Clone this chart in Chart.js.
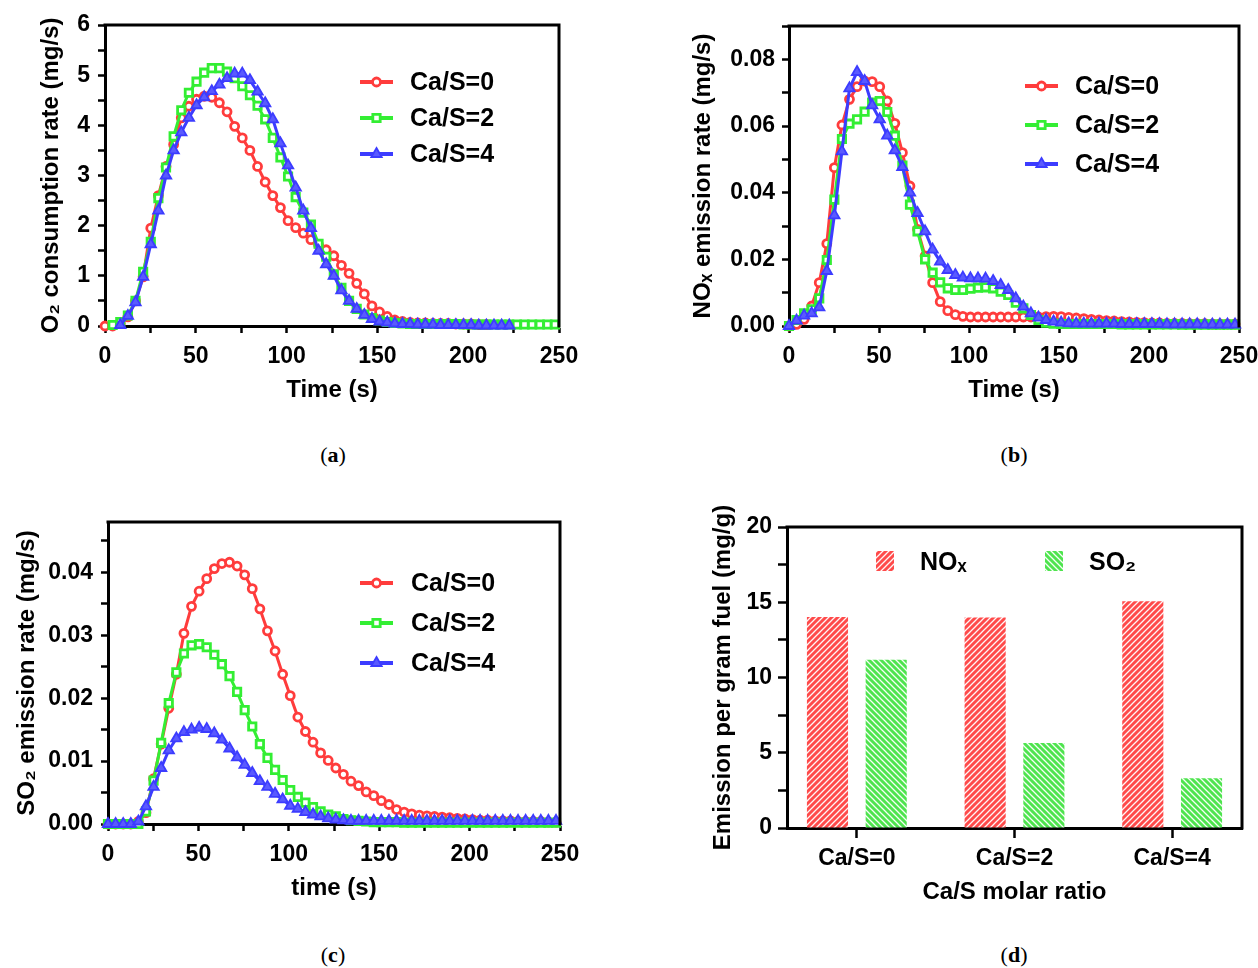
<!DOCTYPE html>
<html><head><meta charset="utf-8">
<script src="https://cdn.jsdelivr.net/npm/chart.js@4.4.1/dist/chart.umd.min.js"></script>
<style>
html,body{margin:0;padding:0;background:#fff;overflow:hidden;width:1258px;height:968px;position:relative;}
canvas{position:absolute;}
.cap{position:absolute;font-family:'Liberation Serif','DejaVu Serif',serif;font-size:22px;transform:translate(-50%,-50%);white-space:nowrap;color:#000}
.cap b{font-weight:bold}
</style></head><body>
<canvas id="ca" width="640" height="420" style="left:0px;top:0px"></canvas>
<canvas id="cb" width="640" height="420" style="left:640px;top:0px"></canvas>
<canvas id="cc" width="640" height="420" style="left:0px;top:500px"></canvas>
<canvas id="cd" width="640" height="420" style="left:640px;top:500px"></canvas>
<div class="cap" style="left:333px;top:455px">(<b>a</b>)</div>
<div class="cap" style="left:1014px;top:455px">(<b>b</b>)</div>
<div class="cap" style="left:333px;top:955px">(<b>c</b>)</div>
<div class="cap" style="left:1014px;top:955px">(<b>d</b>)</div>
<script>
// ---------- DATA ----------
const time = [0,4.2,8.4,12.6,16.8,21,25.2,29.4,33.6,37.8,42,46.2,50.4,54.6,58.8,63,67.2,71.4,75.6,79.8,84,88.2,92.4,96.6,100.8,105,109.2,113.4,117.6,121.8,126,130.2,134.4,138.6,142.8,147,151.2,155.4,159.6,163.8,168,172.2,176.4,180.6,184.8,189,193.2,197.4,201.6,205.8,210,214.2,218.4,222.6,226.8,231,235.2,239.4,243.6,247.8];
const seriesNames = ['Ca/S=0','Ca/S=2','Ca/S=4'];

// (a) O2 consumption rate (mg/s)
const o2Cas0 = [0,0,0.05,0.18,0.5,0.98,1.95,2.6,3.18,3.62,4.15,4.38,4.52,4.58,4.56,4.45,4.27,3.98,3.75,3.5,3.18,2.87,2.6,2.36,2.1,1.96,1.85,1.72,1.62,1.52,1.4,1.21,1.05,0.85,0.64,0.4,0.28,0.19,0.12,0.09,0.07,0.06,0.06,0.05,0.05,0.05,0.04,0.04,0.04,0.03,0.03,null,null,null,null,null,null,null,null,null];
const o2Cas2 = [null,0.02,0.08,0.21,0.5,1.08,1.68,2.55,3.16,3.78,4.3,4.65,4.87,5.05,5.14,5.14,5.07,4.94,4.78,4.6,4.39,4.12,3.75,3.36,2.98,2.57,2.26,2.02,1.64,1.38,1.03,0.76,0.5,0.34,0.23,0.16,0.11,0.08,0.06,0.05,0.04,0.04,0.04,0.04,0.04,0.04,0.04,0.03,0.03,0.03,0.03,0.03,0.03,0.03,0.03,0.03,0.03,0.03,0.03,0.03];
const o2Cas4 = [null,null,0.02,0.2,0.47,0.98,1.63,2.3,3.0,3.5,3.86,4.15,4.4,4.56,4.68,4.81,4.94,5.03,5.03,4.9,4.67,4.44,4.12,3.64,3.2,2.76,2.3,1.95,1.5,1.23,1.0,0.71,0.5,0.34,0.22,0.14,0.09,0.07,0.05,0.04,0.04,0.03,0.03,0.03,0.02,0.02,0.02,0.02,0.02,0.01,0.01,0.01,0.01,0.01,null,null,null,null,null,null];

// (b) NOx emission rate (mg/s)
const noxCas0 = [0,0.0005,0.002,0.006,0.013,0.0247,0.0475,0.0603,0.068,0.0718,0.0735,0.0733,0.0718,0.0675,0.0608,0.052,0.042,0.029,0.021,0.013,0.0073,0.0046,0.0034,0.0029,0.0027,0.0027,0.0027,0.0027,0.0027,0.0027,0.0027,0.0027,0.0027,0.0027,0.0028,0.0029,0.0028,0.0026,0.0024,0.0022,0.002,0.0018,0.0016,0.0015,0.0013,0.0012,0.0011,0.001,0.0009,0.0009,0.0008,0.0008,0.0008,0.0007,0.0007,0.0007,0.0006,0.0006,0.0006,0.0006];
const noxCas2 = [0,0.0018,0.0038,0.005,0.0083,0.0198,0.0379,0.0561,0.0607,0.062,0.0643,0.067,0.0675,0.0642,0.0571,0.0481,0.0364,0.0284,0.02,0.016,0.0131,0.0113,0.0108,0.0108,0.0112,0.0115,0.0116,0.0113,0.0103,0.0093,0.007,0.0053,0.0033,0.0018,0.001,0.0007,0.0006,0.0006,0.0006,0.0006,0.0006,0.0006,0.0006,0.0006,0.0005,0.0005,0.0005,0.0005,0.0005,0.0005,0.0005,0.0005,0.0004,0.0004,0.0004,0.0004,0.0004,0.0004,0.0004,0.0004];
const noxCas4 = [0,0.0016,0.0031,0.0038,0.0056,0.0165,0.0332,0.0524,0.0713,0.0762,0.0735,0.0662,0.062,0.0571,0.0527,0.0477,0.04,0.0339,0.0284,0.0229,0.0193,0.0168,0.0153,0.0145,0.0143,0.0143,0.0142,0.0135,0.0123,0.0108,0.0083,0.0058,0.0038,0.0025,0.0018,0.0013,0.001,0.0008,0.0007,0.0007,0.0007,0.0007,0.0007,0.0007,0.0006,0.0006,0.0006,0.0006,0.0006,0.0006,0.0005,0.0005,0.0005,0.0005,0.0005,0.0004,0.0004,0.0004,0.0004,0.0004];

// (c) SO2 emission rate (mg/s)
const so2Cas0 = [0,0,0,0,0.0004,0.0018,0.0072,0.0127,0.0184,0.0238,0.0303,0.0346,0.037,0.039,0.0406,0.0414,0.0416,0.041,0.0396,0.0374,0.0342,0.0307,0.0275,0.0238,0.0204,0.017,0.0147,0.013,0.0113,0.0101,0.0089,0.0079,0.0068,0.0061,0.0051,0.0045,0.0037,0.0031,0.0023,0.0019,0.0016,0.0014,0.0013,0.0012,0.0011,0.001,0.0009,0.0008,0.0007,0.0006,0.0006,0.0005,0.0005,0.0005,0.0004,0.0004,0.0004,0.0004,0.0003,0.0003];
const so2Cas2 = [0,0,0,0,0,0.002,0.0069,0.0129,0.0192,0.0241,0.0271,0.0284,0.0286,0.0281,0.0269,0.0254,0.0235,0.021,0.0181,0.0155,0.0127,0.0105,0.0086,0.007,0.0054,0.0043,0.0034,0.0027,0.002,0.0015,0.0012,0.0008,0.0006,0.0005,0.0004,0.0003,0.0003,0.0003,0.0003,0.0002,0.0002,0.0002,0.0002,0.0002,0.0002,0.0002,0.0002,0.0002,0.0002,0.0002,0.0002,0.0002,0.0002,0.0002,0.0002,0.0002,0.0002,0.0002,0.0002,0.0002];
const so2Cas4 = [0,0,0,0,0.0004,0.0028,0.0059,0.0089,0.0117,0.0136,0.0146,0.015,0.0153,0.0151,0.0144,0.0134,0.012,0.0106,0.0094,0.0081,0.0068,0.0059,0.0048,0.0039,0.0029,0.0024,0.0019,0.0015,0.0012,0.0009,0.0007,0.0006,0.0005,0.0005,0.0005,0.0005,0.0005,0.0005,0.0005,0.0005,0.0005,0.0005,0.0005,0.0005,0.0005,0.0005,0.0005,0.0005,0.0005,0.0005,0.0005,0.0005,0.0005,0.0005,0.0005,0.0005,0.0005,0.0005,0.0005,0.0005];

// (d) Emission per gram fuel (mg/g)
const barCategories = ['Ca/S=0','Ca/S=2','Ca/S=4'];
const barNOx = [14.02,13.98,15.07];
const barSO2 = [11.18,5.64,3.3];

// tick values and labels
const timeTicks = [0,25,50,75,100,125,150,175,200,225,250];
const timeLabels = [0,50,100,150,200,250];
const aYTicks = [0,0.5,1,1.5,2,2.5,3,3.5,4,4.5,5,5.5,6];
const aYLabels = [0,1,2,3,4,5,6];
const bYTicks = [0,0.01,0.02,0.03,0.04,0.05,0.06,0.07,0.08,0.09];
const bYLabels = [0,0.02,0.04,0.06,0.08];
const cYTicks = [0,0.005,0.01,0.015,0.02,0.025,0.03,0.035,0.04,0.045];
const cYLabels = [0,0.01,0.02,0.03,0.04];
const dYTicks = [0,2.5,5,7.5,10,12.5,15,17.5,20];
const dYLabels = [0,5,10,15,20];
const dXTicks = [0,1,2];

// ---------- STYLE ----------
const FONT = "'Liberation Sans', Arial, Helvetica, sans-serif";
Chart.defaults.font.family = FONT;
Chart.defaults.font.weight = 'bold';
Chart.defaults.font.size = 23;
Chart.defaults.color = '#000';
const C_RED = '#ff3c3c', C_GREEN = '#33ee33', C_BLUE = '#3c3cff';
const TITLE_FONT = {size:24, weight:'bold'};

function series(vals){
  return time.map((t,i)=> vals[i]==null ? null : {x:t, y:vals[i]}).filter(p=>p);
}
function hasLabel(v, list){ return list.some(l=>Math.abs(l-v)<1e-9); }

function lineDatasets(r,g,b){
  const common = {tension:0, fill:false, clip:false, borderWidth:3, pointHoverRadius:0};
  return [
    Object.assign({label:seriesNames[0], data:series(r), borderColor:C_RED, backgroundColor:'#ffffff', pointBackgroundColor:'#ffffff', pointStyle:'circle', pointRadius:4, pointBorderWidth:2.8, order:3}, common),
    Object.assign({label:seriesNames[1], data:series(g), borderColor:C_GREEN, backgroundColor:'#ffffff', pointBackgroundColor:'#ffffff', pointStyle:'rect', pointRadius:5.2, pointBorderWidth:2.8, order:2}, common),
    Object.assign({label:seriesNames[2], data:series(b), borderColor:C_BLUE, backgroundColor:'#5a5aff', pointBackgroundColor:'#5a5aff', pointStyle:'triangle', pointRadius:6, pointBorderWidth:1.8, order:1}, common)
  ];
}

function drawMarker(ctx, ds, x, y){
  const r = ds.pointRadius;
  ctx.lineWidth = ds.pointBorderWidth; ctx.strokeStyle = ds.borderColor; ctx.fillStyle = ds.pointBackgroundColor;
  ctx.beginPath();
  if (ds.pointStyle === 'circle') ctx.arc(x, y, r, 0, Math.PI*2);
  else if (ds.pointStyle === 'rect') { const s = r*Math.SQRT1_2; ctx.rect(x-s, y-s, 2*s, 2*s); }
  else { ctx.moveTo(x, y-r); ctx.lineTo(x+0.866*r, y+0.5*r); ctx.lineTo(x-0.866*r, y+0.5*r); ctx.closePath(); }
  ctx.fill(); ctx.stroke();
}

const framePlugin = {
  id:'frame',
  afterDraw(chart){
    const {ctx, chartArea:a} = chart;
    ctx.save(); ctx.strokeStyle = '#000'; ctx.lineWidth = 3;
    ctx.beginPath(); ctx.moveTo(a.left-1.5, a.top); ctx.lineTo(a.right, a.top); ctx.lineTo(a.right, a.bottom+1.5); ctx.stroke();
    ctx.restore();
  }
};
const lineLegend = {
  id:'lineLegend',
  afterDraw(chart, args, o){
    const ctx = chart.ctx;
    chart.data.datasets.forEach((ds,i)=>{
      const y = o.y + i*o.dy;
      ctx.save();
      ctx.strokeStyle = ds.borderColor; ctx.lineWidth = 3.8;
      ctx.beginPath(); ctx.moveTo(o.x, y); ctx.lineTo(o.x+o.len, y); ctx.stroke();
      drawMarker(ctx, ds, o.x+o.len/2, y);
      ctx.fillStyle = '#000'; ctx.font = 'bold ' + o.size + 'px ' + FONT;
      ctx.textBaseline = 'middle'; ctx.textAlign = 'left';
      ctx.fillText(ds.label, o.x+o.len+o.gap, y + 1);
      ctx.restore();
    });
  }
};
const barLegend = {
  id:'barLegend',
  afterDraw(chart, args, o){
    const ctx = chart.ctx;
    chart.data.datasets.forEach((ds,i)=>{
      const x = o.xs[i];
      ctx.save();
      ctx.fillStyle = ds.backgroundColor;
      ctx.fillRect(x, o.y - o.h/2, o.w, o.h);
      ctx.fillStyle = '#000'; ctx.font = 'bold ' + o.size + 'px ' + FONT;
      ctx.textBaseline = 'middle'; ctx.textAlign = 'left';
      ctx.fillText(ds.label, x + o.w + o.gap, o.y + 2);
      ctx.restore();
    });
  }
};

function axisCommon(tickLen){
  return {
    grid:{display:true, drawOnChartArea:false, drawTicks:true, tickLength:tickLen, tickWidth:2.5, color:'#000', tickColor:'#000', offset:false},
    border:{display:true, color:'#000', width:3}
  };
}
function xTime(titleText, height, tickPad, titlePadB){
  return Object.assign(axisCommon(7), {
    type:'linear', min:0, max:250, offset:false,
    afterBuildTicks: s => { s.ticks = timeTicks.map(v=>({value:v})); },
    afterFit: s => { s.height = height; },
    ticks:{autoSkip:false, maxRotation:0, minRotation:0, padding:tickPad,
      callback: v => hasLabel(v, timeLabels) ? String(v) : ''},
    title:{display:true, text:titleText, font:TITLE_FONT, padding:{top:0, bottom:titlePadB}}
  });
}
function yLin(max, ticks, labels, digits, titleText, width, tickPad, titlePadT, tickLen){
  return Object.assign(axisCommon(tickLen||7), {
    type:'linear', min:0, max:max,
    afterBuildTicks: s => { s.ticks = ticks.map(v=>({value:v})); },
    afterFit: s => { s.width = width; },
    ticks:{autoSkip:false, padding:tickPad,
      callback: v => hasLabel(v, labels) ? v.toFixed(digits) : ''},
    title:{display:true, text:titleText, font:TITLE_FONT, padding:{top:titlePadT, bottom:0}}
  });
}

function lineChart(id, r, g, b, yScale, xTitle, pad, xH, xTickPad, xTitlePad, leg){
  return new Chart(document.getElementById(id), {
    type:'line',
    data:{datasets:lineDatasets(r,g,b)},
    options:{
      responsive:false, animation:false, devicePixelRatio:1,
      layout:{padding:pad},
      plugins:{legend:{display:false}, tooltip:{enabled:false}, lineLegend:leg},
      scales:{ x:xTime(xTitle, xH, xTickPad, xTitlePad), y:yScale }
    },
    plugins:[framePlugin, lineLegend]
  });
}

// (a)
lineChart('ca', o2Cas0, o2Cas2, o2Cas4,
  yLin(6, aYTicks, aYLabels, 0, 'O\u2082 consumption rate (mg/s)', 105, 8, 37),
  'Time (s)', {left:0, top:25, right:81, bottom:0}, 94, 10, 15,
  {x:360, len:33, gap:17, y:82, dy:36, size:25});
// (b)
lineChart('cb', noxCas0, noxCas2, noxCas4,
  yLin(0.09, bYTicks, bYLabels, 2, 'NO\u2093 emission rate (mg/s)', 149, 7, 49),
  'Time (s)', {left:0, top:26, right:41, bottom:0}, 94, 10, 15,
  {x:385, len:33, gap:17, y:86, dy:39, size:25});
// (c)
lineChart('cc', so2Cas0, so2Cas2, so2Cas4,
  yLin(0.048, cYTicks, cYLabels, 2, 'SO\u2082 emission rate (mg/s)', 108, 8, 13),
  'time (s)', {left:0, top:22, right:80, bottom:0}, 96, 10, 17,
  {x:360, len:33, gap:18, y:83, dy:40, size:25});

// (d) bars with hatch patterns
function stripes(color, dir){
  const s = 6, c = document.createElement('canvas'); c.width = s; c.height = s;
  const g = c.getContext('2d');
  g.fillStyle = color; g.fillRect(0,0,s,s);
  g.strokeStyle = 'rgba(255,255,255,0.95)'; g.lineWidth = 1.3;
  g.beginPath();
  if (dir === '/') {
    g.moveTo(0,s); g.lineTo(s,0);
    g.moveTo(-s/2,s/2); g.lineTo(s/2,-s/2);
    g.moveTo(s/2,s*1.5); g.lineTo(s*1.5,s/2);
  } else {
    g.moveTo(0,0); g.lineTo(s,s);
    g.moveTo(-s/2,s/2); g.lineTo(s/2,s*1.5);
    g.moveTo(s/2,-s/2); g.lineTo(s*1.5,s/2);
  }
  g.stroke();
  return g.createPattern(c, 'repeat');
}
new Chart(document.getElementById('cd'), {
  type:'bar',
  data:{datasets:[
    {label:'NO\u2093', data:barNOx.map((v,i)=>({x:i, y:v})), backgroundColor:stripes('#ff4a4a','/'), borderWidth:0, categoryPercentage:0.745, barPercentage:0.7},
    {label:'SO\u2082', data:barSO2.map((v,i)=>({x:i, y:v})), backgroundColor:stripes('#4ee44e','\\'), borderWidth:0, categoryPercentage:0.745, barPercentage:0.7}
  ]},
  options:{
    responsive:false, animation:false, devicePixelRatio:1,
    layout:{padding:{left:0, top:27, right:38, bottom:0}},
    plugins:{legend:{display:false}, tooltip:{enabled:false},
      barLegend:{xs:[236,405], y:61, w:18, h:20, gap:26, size:25}},
    scales:{
      x:Object.assign(axisCommon(10), {
        type:'linear', min:-0.443, max:2.443, offset:false,
        afterBuildTicks: s => { s.ticks = dXTicks.map(v=>({value:v})); },
        afterFit: s => { s.height = 92; },
        ticks:{autoSkip:false, maxRotation:0, padding:7, callback: v => barCategories[v] || ''},
        title:{display:true, text:'Ca/S molar ratio', font:TITLE_FONT, padding:{top:0, bottom:13}}
      }),
      y:yLin(20, dYTicks, dYLabels, 0, 'Emission per gram fuel (mg/g)', 147, 6, 69, 9)
    }
  },
  plugins:[framePlugin, barLegend]
});
</script>
</body></html>
